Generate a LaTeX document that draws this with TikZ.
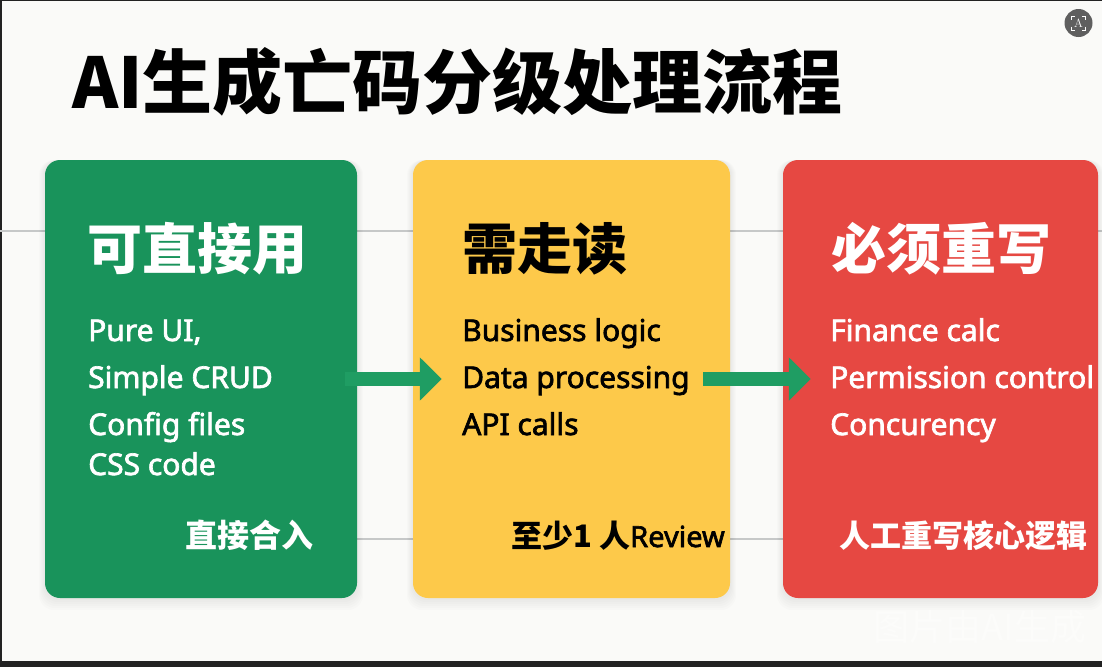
\documentclass[tikz,border=0pt]{standalone}
\usepackage{fontspec}
\usetikzlibrary{arrows.meta}
\newfontfamily\cjk{Noto Sans CJK SC}
\newfontfamily\itemfont[FakeBold=2.2]{Noto Sans}
\definecolor{pageBg}{HTML}{FAFAF8}
\definecolor{edgeDark}{HTML}{222222}
\definecolor{gridGrey}{HTML}{C6C8C8}
\definecolor{useGreen}{HTML}{19935B}
\definecolor{arrowGreen}{HTML}{1F9D63}
\definecolor{readYellow}{HTML}{FDC94A}
\definecolor{rewriteRed}{HTML}{E64842}
\definecolor{iconGrey}{HTML}{5F5F5F}
\tikzset{
  levelBox/.style={rectangle, rounded corners=15pt, inner sep=0pt, minimum height=438pt},
  headText/.style={anchor=base west, inner sep=0pt, font=\cjk\bfseries\fontsize{55}{60}\selectfont},
  itemText/.style={anchor=base west, inner sep=0pt, font=\itemfont\fontsize{30}{34}\selectfont},
  footText/.style={anchor=base, inner sep=0pt, font=\cjk\bfseries\fontsize{31}{36}\selectfont},
  flowArrow/.style={draw=arrowGreen, line width=14pt, -{Triangle[length=22pt, width=42pt]}},
  gridLine/.style={draw=gridGrey, line width=2pt}
}
\begin{document}
\begin{tikzpicture}[x=1pt, y=-1pt]
\useasboundingbox (0,0) rectangle (1102,667);
\fill[pageBg] (0,0) rectangle (1102,667);

% edges of the screenshot
\fill[edgeDark] (0,0) rectangle (1102,1);
\fill[edgeDark] (0,0) rectangle (1.5,667);
\fill[edgeDark] (0,661) rectangle (1102,667);

% grey lines behind the cards
\coordinate(gridUpperA) at (0,231);
\coordinate(gridUpperB) at (1102,231);
\coordinate(gridLowerA) at (357,539);
\coordinate(gridLowerB) at (783,539);
\draw[gridLine] (gridUpperA) -- (gridUpperB);
\draw[gridLine] (gridLowerA) -- (gridLowerB);

% soft shadows
\foreach \s in {1,2,...,6}{
  \fill[black, opacity=0.012, rounded corners=15pt] (45-\s,160) rectangle (357+\s,598+\s*2);
  \fill[black, opacity=0.012, rounded corners=15pt] (413-\s,160) rectangle (730+\s,598+\s*2);
  \fill[black, opacity=0.012, rounded corners=15pt] (783-\s,160) rectangle (1098+\s,598+\s*2);
}

\node[anchor=base west, inner sep=0pt, font=\cjk\bfseries\fontsize{70}{74}\selectfont](titleText) at (72,108){AI生成亡码分级处理流程};

\node[levelBox, fill=useGreen, minimum width=312pt](useBox) at (201,379){};
\node[levelBox, fill=readYellow, minimum width=317pt](readBox) at (571.5,379){};
\node[levelBox, fill=rewriteRed, minimum width=315pt](rewriteBox) at (940.5,379){};

\node[headText, text=white](useHead) at (87,269){可直接用};
\node[itemText, text=white](useItem1) at (88,341){Pure UI,};
\node[itemText, text=white](useItem2) at (88,388){Simple CRUD};
\node[itemText, text=white](useItem3) at (88,435){Config files};
\node[itemText, text=white](useItem4) at (88,475){CSS code};
\node[footText, text=white, font=\cjk\bfseries\fontsize{32}{36}\selectfont](useFoot) at (249,547){直接合入};

\node[headText, text=black](readHead) at (462,269){需走读};
\node[itemText, text=black](readItem1) at (462,341){Business logic};
\node[itemText, text=black](readItem2) at (462,388){Data processing};
\node[itemText, text=black](readItem3) at (462,435){API calls};
\node[footText, text=black](readFoot) at (618,547){至少1 人{\itemfont\fontsize{29}{34}\selectfont Review}};

\node[headText, text=white](rewriteHead) at (831,269){必须重写};
\node[itemText, text=white](rewriteItem1) at (830,341){Finance calc};
\node[itemText, text=white](rewriteItem2) at (830,388){Permission control};
\node[itemText, text=white](rewriteItem3) at (830,435){Concurency};
\node[footText, text=white](rewriteFoot) at (963,547){人工重写核心逻辑};

\draw[flowArrow] ([xshift=-12pt]useBox.east) -- ([xshift=29pt]readBox.west);
\draw[flowArrow] ([xshift=-27pt]readBox.east) -- ([xshift=28pt]rewriteBox.west);

\node[text=white, opacity=0.4, anchor=base, inner sep=0pt, font=\cjk\fontsize{36}{40}\selectfont](markText) at (980,640){图片由AI生成};

% lens icon
\node[circle, fill=iconGrey, minimum size=28pt, inner sep=0pt, text=white, font=\fontsize{12}{12}\selectfont](lensIcon) at (1078.5,23){A};
\foreach \sx/\sy in {-1/-1,1/-1,1/1,-1/1}{
  \draw[white, line width=0.8pt] (1078.5+\sx*7,23+\sy*3.5) -- (1078.5+\sx*7,23+\sy*7) -- (1078.5+\sx*3.5,23+\sy*7);
}
\end{tikzpicture}
\end{document}
